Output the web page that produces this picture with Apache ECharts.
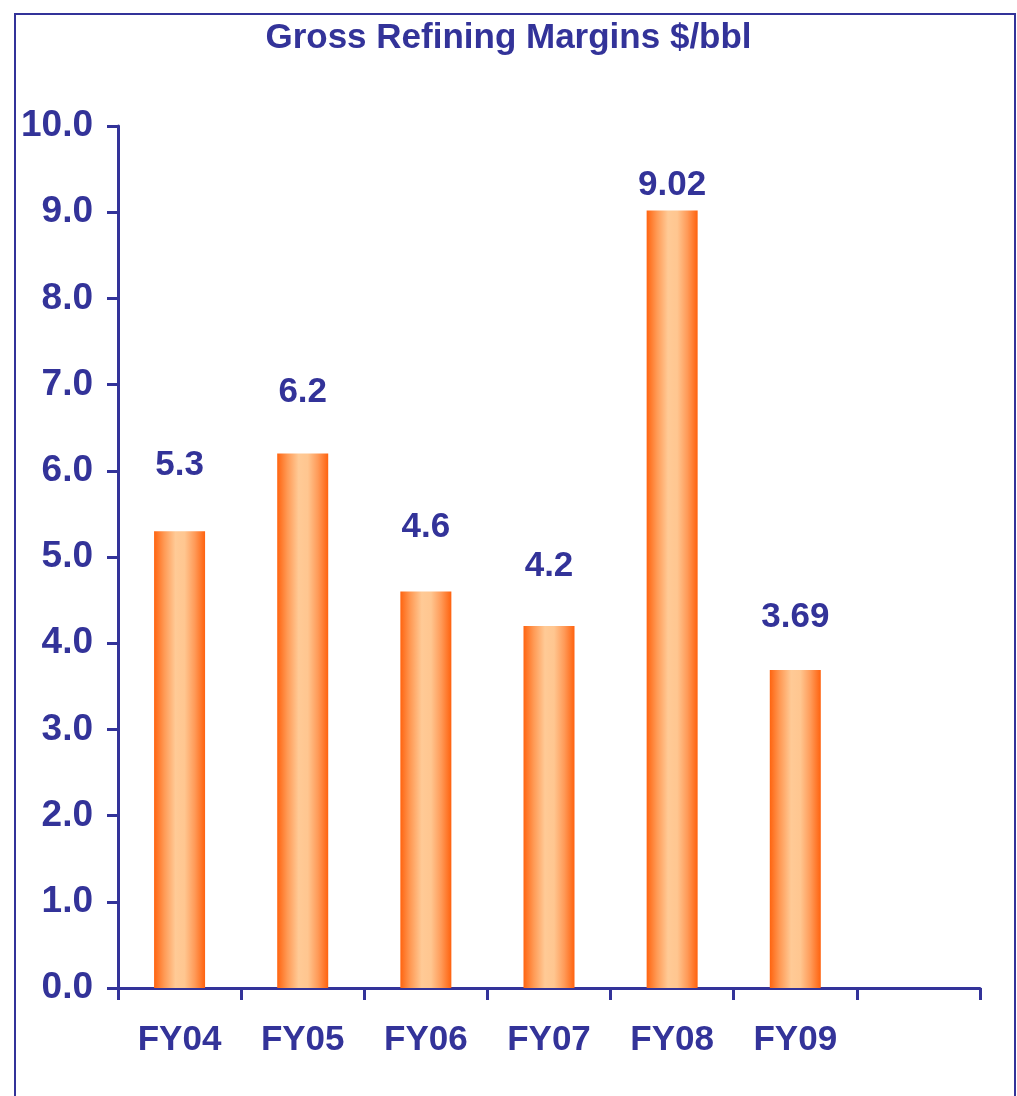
<!DOCTYPE html>
<html>
<head>
<meta charset="utf-8">
<script src="https://cdn.jsdelivr.net/npm/echarts@6/dist/echarts.min.js"></script>
<style>
  html, body { margin: 0; padding: 0; background: #fff; }
  #chart { width: 1017px; height: 1096px; }
</style>
</head>
<body>
<div id="chart"></div>
<script>
// Gross refining margins by fiscal year ($/bbl)
const categories = ['FY04', 'FY05', 'FY06', 'FY07', 'FY08', 'FY09', ''];
const margins = [5.3, 6.2, 4.6, 4.2, 9.02, 3.69, null];
const marginLabels = ['5.3', '6.2', '4.6', '4.2', '9.02', '3.69', ''];
const yTicks = [0, 1, 2, 3, 4, 5, 6, 7, 8, 9, 10];

// gap in px between each bar top and its value label
const labelGaps = [48, 44, 47, 42, 8, 35, 0];

const navy = '#333399';
const font = 'Liberation Sans, Arial, sans-serif';

const barFill = new echarts.graphic.LinearGradient(0, 0, 1, 0, [
  { offset: 0, color: '#ff6410' },
  { offset: 0.2, color: '#ff9a55' },
  { offset: 0.42, color: '#ffca96' },
  { offset: 0.6, color: '#ffc690' },
  { offset: 0.8, color: '#ff9a58' },
  { offset: 1, color: '#ff620e' }
]);

const chart = echarts.init(document.getElementById('chart'), null, { renderer: 'canvas' });

chart.setOption({
  animation: false,
  backgroundColor: '#fff',
  title: {
    text: 'Gross Refining Margins $/bbl',
    left: 'center',
    top: 16,
    textStyle: { color: navy, fontFamily: font, fontWeight: 'bold', fontSize: 35 }
  },
  graphic: [{
    type: 'rect',
    shape: { x: 15, y: 14, width: 1000, height: 1100 },
    style: { fill: 'none', stroke: navy, lineWidth: 2 },
    silent: true
  }],
  grid: { left: 118, right: 37, top: 126, bottom: 108, containLabel: false },
  xAxis: {
    type: 'category',
    data: categories,
    boundaryGap: true,
    axisLine: { lineStyle: { color: navy, width: 3 } },
    axisTick: { show: true, inside: false, length: 12, alignWithLabel: false, lineStyle: { color: navy, width: 3 } },
    axisLabel: { color: navy, fontFamily: font, fontWeight: 'bold', fontSize: 35, margin: 35 },
    splitLine: { show: false }
  },
  yAxis: {
    type: 'value',
    min: yTicks[0],
    max: yTicks[yTicks.length - 1],
    interval: 1,
    axisLine: { show: true, lineStyle: { color: navy, width: 3 } },
    axisTick: { show: true, inside: false, length: 11, lineStyle: { color: navy, width: 3 } },
    axisLabel: {
      color: navy, fontFamily: font, fontWeight: 'bold', fontSize: 37, margin: 25,
      formatter: v => v.toFixed(1)
    },
    splitLine: { show: false }
  },
  series: [{
    type: 'bar',
    barWidth: 51,
    data: margins.map((v, i) => ({
      value: v,
      label: {
        show: v !== null,
        position: 'top',
        distance: labelGaps[i],
        formatter: () => marginLabels[i],
        color: navy, fontFamily: font, fontWeight: 'bold', fontSize: 35
      }
    })),
    itemStyle: { color: barFill }
  }]
});
</script>
</body>
</html>
